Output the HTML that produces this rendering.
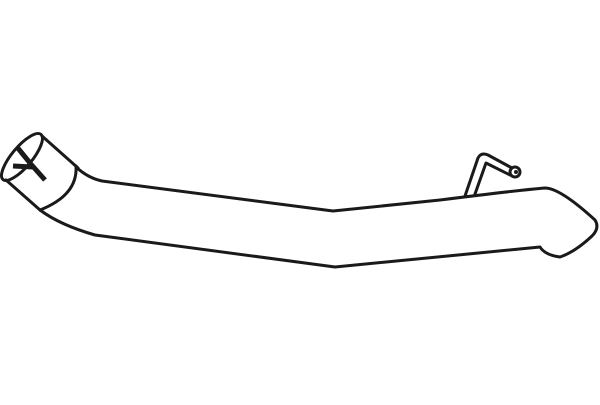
<!DOCTYPE html>
<html><head><style>html,body{margin:0;padding:0;background:#fff}</style></head>
<body>
<svg width="600" height="400" viewBox="0 0 600 400" xmlns="http://www.w3.org/2000/svg">
<g fill="none" stroke="#1a1a1a" stroke-width="3" stroke-linecap="round" stroke-linejoin="round">
<ellipse cx="22" cy="157" rx="29.5" ry="10" transform="rotate(-50 22 157)"/>
<path d="M42 136 L78 168"/>
<path d="M6 180 L40 210"/>
<path d="M76 166 Q78 195 40 210"/>
<path d="M76 167 Q88 178 102 181 L333 211 L440 200 Q520 190 545 188 Q560 188 595 220 Q600 228 592 236 Q575 252 560 257 Q545 255 540 247 L335 267 L95 235 Q60 225 40 210"/>
<path d="M465 196 L478 158 Q481 152 488 155 L512 168"/>
<path d="M475 194 L486 163 L510 175"/>
<circle cx="515" cy="172" r="5"/>
</g>
<circle cx="516" cy="172" r="2" fill="#1a1a1a"/>
<g stroke="#1a1a1a" stroke-width="5" stroke-linecap="butt">
<path d="M17 147 L30 163"/>
<path d="M29 162 L45 180"/>
<path d="M13 166 L33 167"/>
</g>
</svg>
</body></html>
